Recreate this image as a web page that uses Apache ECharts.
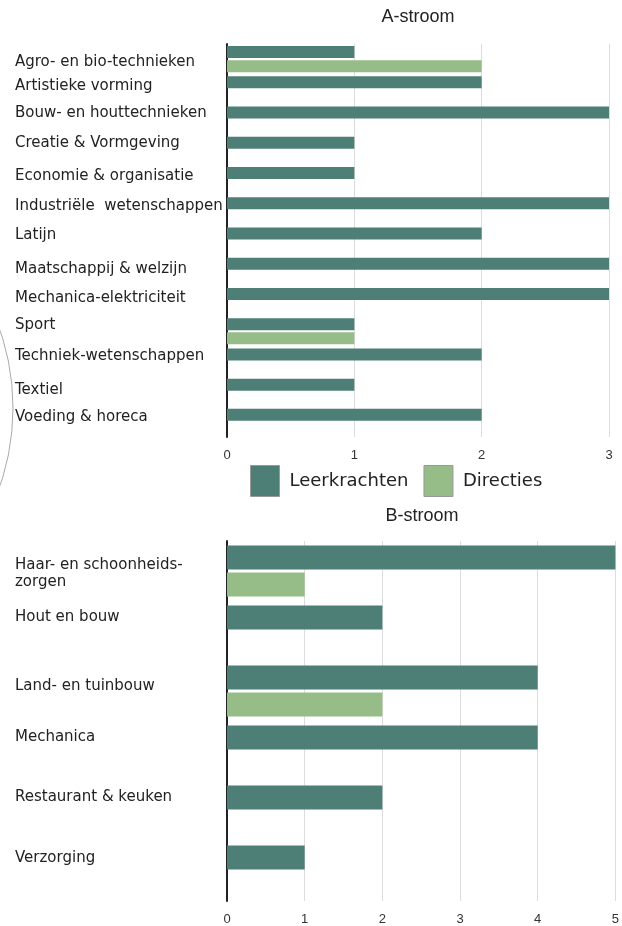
<!DOCTYPE html>
<html>
<head>
<meta charset="utf-8">
<script src="https://cdn.jsdelivr.net/npm/echarts@6/dist/echarts.min.js"></script>
<style>
  html, body { margin: 0; padding: 0; background: #fff; }
  #chart { width: 622px; height: 926px; }
</style>
</head>
<body>
<div id="chart"></div>
<script>
// Series shown in both panels
const seriesNames = ['Leerkrachten', 'Directies'];

// A-stroom
const aCategories = [
  'Agro- en bio-technieken',
  'Artistieke vorming',
  'Bouw- en houttechnieken',
  'Creatie & Vormgeving',
  'Economie & organisatie',
  'Industriële  wetenschappen',
  'Latijn',
  'Maatschappij & welzijn',
  'Mechanica-elektriciteit',
  'Sport',
  'Techniek-wetenschappen',
  'Textiel',
  'Voeding & horeca'
];
const aLeerkrachten = [1, 2, 3, 1, 1, 3, 2, 3, 3, 1, 2, 1, 2];
const aDirecties    = [2, null, null, null, null, null, null, null, null, 1, null, null, null];
const aTicks = [0, 1, 2, 3];

// B-stroom
const bCategories = [
  'Haar- en schoonheids-\nzorgen',
  'Hout en bouw',
  'Land- en tuinbouw',
  'Mechanica',
  'Restaurant & keuken',
  'Verzorging'
];
const bLeerkrachten = [5, 2, 4, 4, 2, 1];
const bDirecties    = [1, null, 2, null, null, null];
const bTicks = [0, 1, 2, 3, 4, 5];

// Colours
const colLeer = '#4e7f77';
const colDir = '#96bd87';

// Vertical nudges (px) for the category labels of each panel
const aLabelNudge = [3, -3, -6, -7, -4, -4, -5, -2, -3, -6, -5, -2, -5];
const bLabelNudge = [3, -14, -5, -14, -14, -13];

function nudgedLabels(nudges) {
  const rich = {};
  nudges.forEach((dy, i) => {
    rich['s' + i] = dy < 0 ? { padding: [0, 0, -2 * dy, 0] } : { padding: [2 * dy, 0, 0, 0] };
  });
  return {
    rich: rich,
    formatter: (value, index) => nudges[index] === 0 ? value : '{s' + index + '|' + value + '}'
  };
}

const labelFont = 'DejaVu Sans';
const tickFont = 'Liberation Sans';

function valueAxis(gridIndex, ticks) {
  return {
    type: 'value',
    gridIndex: gridIndex,
    min: ticks[0],
    max: ticks[ticks.length - 1],
    interval: ticks[1] - ticks[0],
    axisLine: { show: false },
    axisTick: { show: false },
    splitLine: { show: true, lineStyle: { color: '#dcdcdc', width: 1 } },
    axisLabel: { color: '#333', fontSize: 13, fontFamily: tickFont, margin: 12 }
  };
}

function categoryAxis(gridIndex, cats, nudges) {
  const nl = nudgedLabels(nudges);
  return {
    type: 'category',
    gridIndex: gridIndex,
    inverse: true,
    data: cats,
    axisLine: { show: true, lineStyle: { color: '#222', width: 2 } },
    axisTick: { show: false },
    axisLabel: {
      interval: 0,
      align: 'left',
      margin: 212,
      color: '#222',
      fontSize: 15,
      lineHeight: 17,
      fontFamily: labelFont,
      rich: nl.rich,
      formatter: nl.formatter
    }
  };
}

const chart = echarts.init(document.getElementById('chart'), null, { renderer: 'canvas' });

chart.setOption({
  animation: false,
  backgroundColor: '#fff',
  title: [
    {
      text: 'A-stroom', left: 418, top: 8, textAlign: 'center', padding: 0,
      textStyle: { fontSize: 18, fontWeight: 'normal', color: '#222', fontFamily: tickFont }
    },
    {
      text: 'B-stroom', left: 422, top: 507, textAlign: 'center', padding: 0,
      textStyle: { fontSize: 18, fontWeight: 'normal', color: '#222', fontFamily: tickFont }
    }
  ],
  legend: {
    data: seriesNames,
    left: 250,
    top: 465,
    padding: 0,
    itemWidth: 29,
    itemHeight: 31,
    itemGap: 15,
    icon: 'rect',
    itemStyle: { borderColor: '#999', borderWidth: 1 },
    textStyle: { fontSize: 18, fontFamily: labelFont, color: '#222', padding: [0, 0, 0, 5] }
  },
  grid: [
    { left: 227, top: 44, width: 382, height: 393 },
    { left: 227, top: 541, width: 391, height: 362 }
  ],
  xAxis: [valueAxis(0, aTicks), valueAxis(1, bTicks)],
  yAxis: [categoryAxis(0, aCategories, aLabelNudge), categoryAxis(1, bCategories, bLabelNudge)],
  graphic: [
    {
      type: 'circle',
      silent: true,
      shape: { cx: -228, cy: 408, r: 241 },
      style: { fill: null, stroke: '#aaa', lineWidth: 1 }
    }
  ],
  series: [
    {
      name: seriesNames[0], type: 'bar', xAxisIndex: 0, yAxisIndex: 0,
      data: aLeerkrachten, barWidth: 12, barGap: '17%',
      itemStyle: { color: colLeer }
    },
    {
      name: seriesNames[1], type: 'bar', xAxisIndex: 0, yAxisIndex: 0,
      data: aDirecties, barWidth: 12, barGap: '17%',
      itemStyle: { color: colDir }
    },
    {
      name: seriesNames[0], type: 'bar', xAxisIndex: 1, yAxisIndex: 1,
      data: bLeerkrachten, barWidth: 24, barGap: '12%',
      itemStyle: { color: colLeer }
    },
    {
      name: seriesNames[1], type: 'bar', xAxisIndex: 1, yAxisIndex: 1,
      data: bDirecties, barWidth: 24, barGap: '12%',
      itemStyle: { color: colDir }
    }
  ]
});
</script>
</body>
</html>
